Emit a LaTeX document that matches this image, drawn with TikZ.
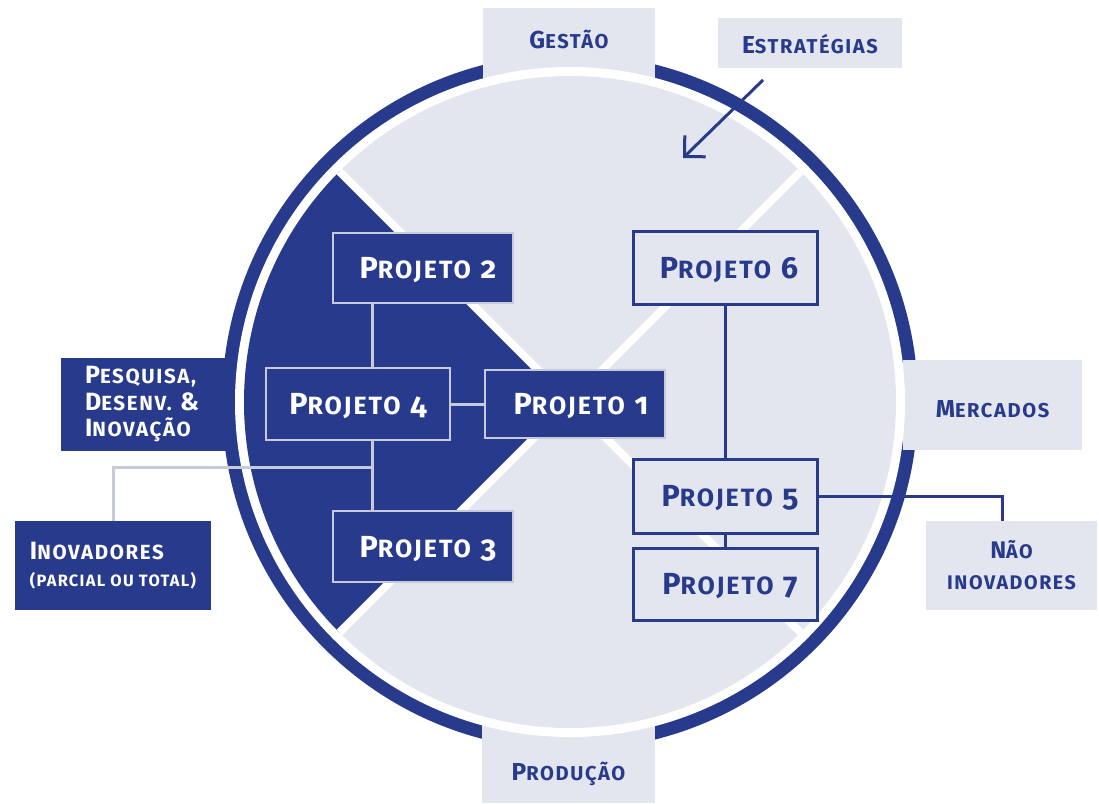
\documentclass[tikz,border=0pt]{standalone}
\usepackage{fontspec}
\setmainfont{Fira Sans}[Numbers=OldStyle, LetterSpace=8]
\usetikzlibrary{arrows.meta}
\definecolor{navy}{HTML}{273A8C}
\definecolor{pale}{HTML}{E3E6EE}
\definecolor{paleline}{HTML}{C5CBDA}
\makeatletter
\newcommand\smc[1]{{\fontsize{\strip@pt\dimexpr0.82\dimexpr\f@size pt\relax\relax}{\f@baselineskip}\selectfont\MakeUppercase{#1}}}
\makeatother
\begin{document}
\begin{tikzpicture}[x=1pt,y=-1pt,
  lab/.style={fill=pale, text=navy, inner sep=0pt, font=\bfseries\fontsize{24.5}{27}\selectfont},
  dlab/.style={fill=navy, text=white, inner sep=0pt, font=\bfseries\fontsize{25}{26.5}\selectfont},
  projbase/.style={inner sep=0pt, text height=21pt, text depth=0pt, font=\bfseries\fontsize{30.5}{30}\selectfont},
  dproj/.style={projbase, draw=paleline, line width=2.5pt, fill=navy, text=white},
  lproj/.style={projbase, draw=navy, line width=3pt, fill=pale, text=navy},
  lconn/.style={draw=paleline, line width=3pt},
  dconn/.style={draw=navy, line width=3pt}]
\useasboundingbox (0,0) rectangle (1099,803);
\coordinate (C) at (570,402);
% outer ring
\fill[navy] (C) circle (348);
% label boxes sitting on the ring
\node[lab, minimum width=172, minimum height=76, text height=17pt, text depth=13pt] (gestao) at (569,46) {G\smc{estão}};
\node[lab, minimum width=173, minimum height=83, text height=37pt, text depth=0pt] (producao) at (568.5,761.5) {P\smc{rodução}};
\node[lab, minimum width=179, minimum height=90, text height=24pt, text depth=0pt] (mercados) at (992.5,405) {M\smc{ercados}};
\node[dlab, minimum width=180, minimum height=93, text width=132pt, align=left] (pesq) at (151,404.5) {P\smc{esquisa,}\\D\smc{esenv.}\ \&\\I\smc{novação}};
% white gap and inner disc
\fill[white] (C) circle (335);
\fill[pale] (C) circle (326);
\begin{scope}
  \clip (C) circle (326);
  \fill[navy] (C) -- ++(-400,-400) -- ++(0,800) -- cycle;
  \draw[white, line width=8pt] (C) ++(-400,-400) -- ++(800,800);
  \draw[white, line width=8pt] (C) ++(-400,400) -- ++(800,-800);
\end{scope}
% outer labels
\node[lab, minimum width=184, minimum height=50, text height=21pt, text depth=0pt] (estr) at (810,43) {E\smc{stratégias}};
\node[dlab, minimum width=196, minimum height=89, align=left] (inov) at (113,565.5) {I\smc{novadores}\\{\fontsize{20}{28}\selectfont\smc{(parcial ou total)}}};
\node[lab, minimum width=171, minimum height=89, align=center, font=\bfseries\fontsize{24}{31}\selectfont] (nao) at (1011.5,565.5) {N\smc{ão}\\\smc{inovadores}};
% projects
\node[dproj, minimum width=180, minimum height=70] (p2) at (423,268) {\kern10pt P\smc{rojeto} 2};
\node[dproj, minimum width=184, minimum height=72] (p4) at (358,404) {P\smc{rojeto} 4};
\node[dproj, minimum width=180, minimum height=68] (p1) at (575,404) {\kern12pt P\smc{rojeto} 1};
\node[dproj, minimum width=180, minimum height=71] (p3) at (423,546.5) {\kern10pt P\smc{rojeto} 3};
\node[lproj, minimum width=184, minimum height=73] (p6) at (725,267.5) {\kern8pt P\smc{rojeto} 6};
\node[lproj, minimum width=184, minimum height=74] (p5) at (725,496) {\kern10pt P\smc{rojeto} 5};
\node[lproj, minimum width=184, minimum height=72] (p7) at (725,584) {\kern10pt P\smc{rojeto} 7};
% connectors
\coordinate (jn) at (372,467);
\coordinate (nj) at (1002,0);
\draw[lconn] (p2.south -| jn) -- (p4.north -| jn);
\draw[lconn] (p4.south -| jn) -- (p3.north -| jn);
\draw[lconn] (p4.east) -- (p1.west);
\draw[lconn] (jn) -| (inov.north);
\draw[dconn] (p6.south) -- (p5.north);
\draw[dconn] (p5.south) -- (p7.north);
\draw[dconn] (p5.east) -| (nao.north -| nj);
% strategy arrow
\coordinate (s1) at (763,80);
\coordinate (s2) at (683,158);
\draw[navy, line width=3pt, -{Straight Barb[length=15pt,width=30pt]}] (s1) -- (s2);
\end{tikzpicture}
\end{document}
